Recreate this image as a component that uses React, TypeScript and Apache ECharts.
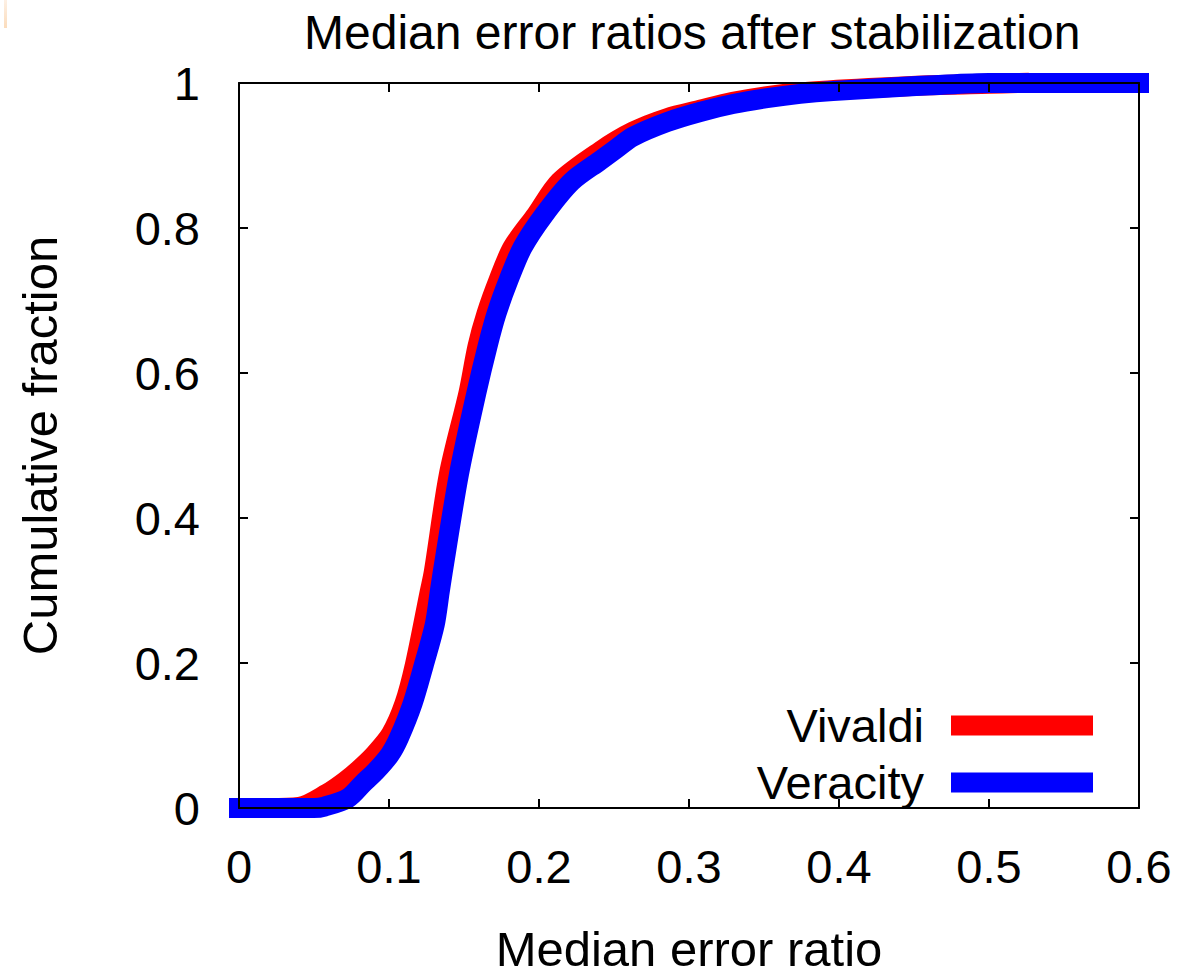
import React, { useEffect, useRef } from "react";
import * as echarts from "echarts";

// CDF of median error ratio, one curve per coordinate system
const vivaldiRatio = [0, 0.02, 0.04, 0.0587, 0.0707, 0.08, 0.09, 0.1013, 0.1103, 0.1173, 0.1271, 0.1298, 0.14, 0.153, 0.159, 0.165, 0.173, 0.1823, 0.198, 0.2137, 0.2407, 0.2627, 0.2853, 0.3073, 0.3293, 0.352, 0.374, 0.42, 0.46, 0.5, 0.52];
const vivaldiFraction = [0, 0, 0.0015, 0.02, 0.037, 0.053, 0.073, 0.102, 0.144, 0.198, 0.298, 0.325, 0.461, 0.573, 0.637, 0.682, 0.728, 0.773, 0.818, 0.864, 0.906, 0.933, 0.9515, 0.963, 0.974, 0.982, 0.987, 0.993, 0.997, 0.999, 1.0];

const veracityRatio = [0, 0.05, 0.057, 0.0727, 0.0827, 0.0913, 0.1007, 0.1067, 0.1157, 0.1233, 0.1305, 0.1338, 0.1358, 0.1467, 0.1583, 0.1657, 0.1717, 0.1797, 0.189, 0.2033, 0.2217, 0.2407, 0.2507, 0.2627, 0.2853, 0.3073, 0.3293, 0.352, 0.374, 0.396, 0.44, 0.4627, 0.5, 0.6];
const veracityFraction = [0, 0, 0.002, 0.0136, 0.034, 0.051, 0.074, 0.097, 0.144, 0.198, 0.253, 0.298, 0.325, 0.461, 0.573, 0.637, 0.682, 0.728, 0.773, 0.818, 0.864, 0.893, 0.908, 0.926, 0.946, 0.96, 0.971, 0.979, 0.985, 0.989, 0.9945, 0.997, 1.0, 1.0];

const xTickLabels = ["0", "0.1", "0.2", "0.3", "0.4", "0.5", "0.6"];
const yTickLabels = ["0", "0.2", "0.4", "0.6", "0.8", "1"];

const FONT = "'Liberation Sans', Arial, Helvetica, sans-serif";
const TICK_SIZE = 47;
const NAME_SIZE = 49;

const zip = (xs: number[], ys: number[]) => xs.map((x, i) => [x, ys[i]]);

export default function App() {
  const ref = useRef<HTMLDivElement>(null);

  useEffect(() => {
    if (!ref.current) return;
    const chart = echarts.init(ref.current, undefined, { renderer: "svg" });

    const frameLine = { show: true, onZero: false, lineStyle: { color: "#000", width: 2 } };
    const innerTick = { show: true, inside: true, length: 9, lineStyle: { color: "#000", width: 2 } };

    const xBase = { type: "value" as const, min: 0, max: 0.6, interval: 0.1, splitLine: { show: false }, z: 10 };
    const yBase = { type: "value" as const, min: 0, max: 1, interval: 0.2, splitLine: { show: false }, z: 10 };

    const curveStyle = (color: string) => ({ color, width: 20, cap: "square" as const, join: "round" as const });

    chart.setOption({
      animation: false,
      backgroundColor: "#fff",
      textStyle: { fontFamily: FONT },
      title: {
        text: "Median error ratios after stabilization",
        left: 299,
        top: 3,
        textStyle: { fontFamily: FONT, fontSize: 48, fontWeight: "normal", color: "#000" },
      },
      grid: { left: 239, right: 52, top: 83, bottom: 159 },
      legend: {
        orient: "vertical",
        align: "right",
        right: 93,
        top: 697,
        itemWidth: 142,
        itemHeight: 20,
        itemGap: 10,
        icon: "rect",
        selectedMode: false,
        textStyle: { fontFamily: FONT, fontSize: TICK_SIZE, color: "#000", padding: [0, 22, 0, 0] },
        data: ["Vivaldi", "Veracity"],
      },
      xAxis: [
        {
          ...xBase,
          position: "bottom",
          name: "Median error ratio",
          nameLocation: "middle",
          nameGap: 116,
          nameTextStyle: { fontFamily: FONT, fontSize: NAME_SIZE, color: "#000" },
          axisLine: frameLine,
          axisTick: innerTick,
          axisLabel: {
            margin: 35,
            color: "#000",
            fontFamily: FONT,
            fontSize: TICK_SIZE,
            formatter: (v: number) => xTickLabels[Math.round(v * 10)] ?? "",
          },
        },
        { ...xBase, position: "top", axisLine: frameLine, axisTick: innerTick, axisLabel: { show: false } },
      ],
      yAxis: [
        {
          ...yBase,
          position: "left",
          name: "Cumulative fraction",
          nameLocation: "middle",
          nameGap: 175,
          nameTextStyle: { fontFamily: FONT, fontSize: NAME_SIZE, color: "#000" },
          axisLine: frameLine,
          axisTick: innerTick,
          axisLabel: {
            margin: 39,
            color: "#000",
            fontFamily: FONT,
            fontSize: TICK_SIZE,
            formatter: (v: number) => yTickLabels[Math.round(v * 5)] ?? "",
          },
        },
        { ...yBase, position: "right", axisLine: frameLine, axisTick: innerTick, axisLabel: { show: false } },
      ],
      series: [
        {
          name: "Vivaldi",
          type: "line",
          data: zip(vivaldiRatio, vivaldiFraction),
          showSymbol: false,
          smooth: 0.3,
          clip: false,
          color: "#ff0000",
          itemStyle: { color: "#ff0000" },
          lineStyle: curveStyle("#ff0000"),
          z: 2,
        },
        {
          name: "Veracity",
          type: "line",
          data: zip(veracityRatio, veracityFraction),
          showSymbol: false,
          smooth: 0.3,
          clip: false,
          color: "#0000ff",
          itemStyle: { color: "#0000ff" },
          lineStyle: curveStyle("#0000ff"),
          z: 3,
        },
      ],
      graphic: [
        {
          type: "rect",
          shape: { x: 4, y: 0, width: 3, height: 28 },
          style: {
            fill: new echarts.graphic.LinearGradient(0, 0, 0, 1, [
              { offset: 0, color: "#fdf0e4" },
              { offset: 1, color: "#fbdcbc" },
            ]),
          },
          silent: true,
        },
      ],
    });

    return () => chart.dispose();
  }, []);

  return (
    <div
      ref={ref}
      style={{ position: "fixed", left: 0, top: 0, width: 1191, height: 978, background: "#fff" }}
    />
  );
}
